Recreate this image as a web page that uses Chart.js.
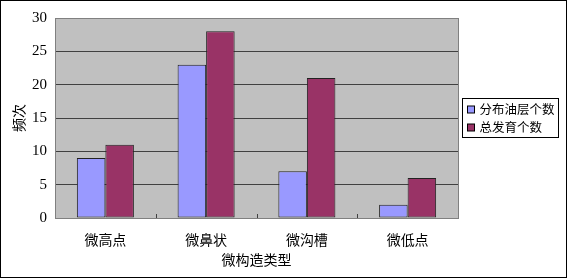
<!DOCTYPE html>
<html>
<head>
<meta charset="utf-8">
<script src="https://cdn.jsdelivr.net/npm/chart.js@4"></script>
<style>
  body { margin: 0; background: #fff; }
  #wrap { width: 567px; height: 278px; }
</style>
</head>
<body>
<div id="wrap"><canvas id="c" width="567" height="278"></canvas></div>
<script>
var categories = ['微高点', '微鼻状', '微沟槽', '微低点'];
var oilLayers = [9, 23, 7, 2];
var totalCount = [11, 28, 21, 6];
var yTicks = [0, 5, 10, 15, 20, 25, 30];

var serif = '"Liberation Serif", "Noto Sans CJK SC", serif';
var cjk = '"Noto Sans CJK SC", "Liberation Serif", serif';

// grey plot background, frame, legend box and outer border
var decor = {
    id: 'decor',
    beforeDatasetsDraw: function(chart) {
        var a = chart.chartArea, c = chart.ctx;
        c.save();
        c.strokeStyle = '#808080';
        c.lineWidth = 1;
        c.strokeRect(Math.round(a.left) + 0.5, Math.round(a.top) + 0.5, Math.round(a.right - a.left), Math.round(a.bottom - a.top));
        c.restore();
    },
    beforeDraw: function(chart) {
        var a = chart.chartArea, c = chart.ctx;
        c.save();
        c.fillStyle = '#fff';
        c.fillRect(0, 0, chart.width, chart.height);
        c.fillStyle = '#C0C0C0';
        c.fillRect(a.left, a.top, a.right - a.left, a.bottom - a.top);
        c.restore();
    },
    afterDraw: function(chart) {
        var c = chart.ctx, a = chart.chartArea;
        c.save();
        // small inward ticks between categories on the x axis
        var xs = chart.scales.x;
        c.strokeStyle = '#404040';
        c.lineWidth = 1;
        for (var i = 1; i < categories.length; i++) {
            var x = Math.round((xs.getPixelForTick(i - 1) + xs.getPixelForTick(i)) / 2) + 0.5;
            c.beginPath();
            c.moveTo(x, a.bottom);
            c.lineTo(x, a.bottom - 4);
            c.stroke();
        }
        // legend
        var lx = 462.5, ly = 98.5, lw = 96, lh = 39;
        c.strokeStyle = '#000';
        c.strokeRect(lx, ly, lw, lh);
        c.font = '12.5px ' + cjk;
        c.textBaseline = 'middle';
        chart.data.datasets.forEach(function(ds, k) {
            var cy = ly + 11 + k * 18;
            c.fillStyle = ds.backgroundColor;
            c.fillRect(lx + 5, cy - 3.5, 7, 7);
            c.strokeStyle = '#000';
            c.strokeRect(lx + 5, cy - 3.5, 7, 7);
            c.fillStyle = '#000';
            c.fillText(ds.label, lx + 17, cy);
        });
        // outer border
        c.strokeStyle = '#000';
        c.strokeRect(0.5, 0.5, chart.width - 1, chart.height - 1);
        c.restore();
    }
};

new Chart(document.getElementById('c').getContext('2d'), {
    type: 'bar',
    data: {
        labels: categories,
        datasets: [{
            label: '分布油层个数',
            data: oilLayers,
            backgroundColor: '#9999FF',
            borderColor: '#222222',
            borderWidth: 1,
            borderSkipped: false
        }, {
            label: '总发育个数',
            data: totalCount,
            backgroundColor: '#993366',
            borderColor: '#222222',
            borderWidth: 1,
            borderSkipped: false
        }]
    },
    options: {
        responsive: false,
        animation: false,
        layout: { padding: { left: 0, top: 18, right: 109, bottom: 0 } },
        plugins: {
            legend: { display: false },
            tooltip: { enabled: false }
        },
        datasets: {
            bar: { barPercentage: 1, categoryPercentage: 0.566 }
        },
        scales: {
            x: {
                grid: { display: false },
                border: { display: false },
                ticks: { color: '#000', font: { family: cjk, size: 14 }, padding: 5 },
                title: {
                    display: true, text: '微构造类型', color: '#000',
                    font: { family: cjk, size: 14 }, padding: { top: 0, bottom: 10 }
                },
                afterFit: function(s) { s.height = 60; }
            },
            y: {
                min: 0, max: 30,
                afterBuildTicks: function(s) { s.ticks = yTicks.map(function(v) { return { value: v }; }); },
                grid: { color: '#404040', drawTicks: false, lineWidth: 1 },
                border: { display: false },
                ticks: { color: '#000', font: { family: serif, size: 15 }, padding: 8 },
                title: {
                    display: true, text: '频次', color: '#000',
                    font: { family: cjk, size: 14 }, padding: { top: 10, bottom: 0 }
                },
                afterFit: function(s) { s.width = 55; }
            }
        }
    },
    plugins: [decor]
});
</script>
</body>
</html>
